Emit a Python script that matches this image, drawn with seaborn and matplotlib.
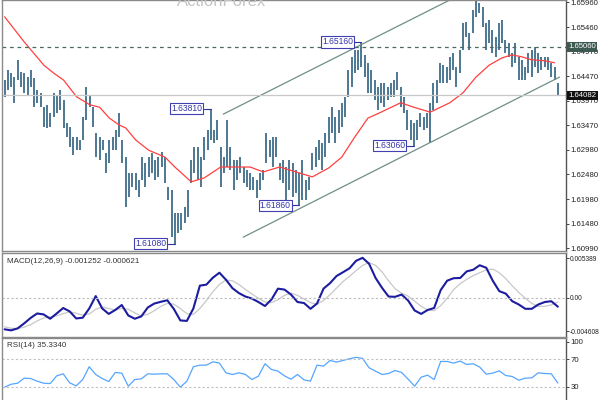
import numpy as np
import pandas as pd
import seaborn as sns
from matplotlib import pyplot as plt
from matplotlib import transforms

# Barras de preço (máximas e mínimas)
highs = [1.6439, 1.6459, 1.6453, 1.6445, 1.6480, 1.6455, 1.6453, 1.6445, 1.6459, 1.6443,
         1.6419, 1.6413, 1.6384, 1.6389, 1.6372, 1.6413, 1.6409, 1.6419, 1.6399, 1.6352,
         1.6344, 1.6324, 1.6324, 1.6318, 1.6364, 1.6425, 1.6409, 1.6384, 1.6332, 1.6324,
         1.6318, 1.6291, 1.6318, 1.6324, 1.6338, 1.6372, 1.6318, 1.6283, 1.6251, 1.6251,
         1.6251, 1.6237, 1.6283, 1.6271, 1.6283, 1.6291, 1.6277, 1.6283, 1.6293, 1.6283,
         1.6222, 1.6216, 1.6170, 1.6170, 1.6170, 1.6182, 1.6216, 1.6277, 1.6303, 1.6303,
         1.6283, 1.6324, 1.6338, 1.6381, 1.6338, 1.6358, 1.6303, 1.6283, 1.6358, 1.6303,
         1.6277, 1.6277, 1.6283, 1.6263, 1.6257, 1.6251, 1.6243, 1.6237, 1.6251, 1.6257,
         1.6332, 1.6318, 1.6324, 1.6324, 1.6271, 1.6277, 1.6263, 1.6277, 1.6271, 1.6257,
         1.6251, 1.6277, 1.6237, 1.6243, 1.6291, 1.6303, 1.6318, 1.6312, 1.6332, 1.6364,
         1.6384, 1.6364, 1.6378, 1.6393, 1.6405, 1.6459, 1.6486, 1.6500, 1.6500, 1.6516,
         1.6490, 1.6474, 1.6459, 1.6439, 1.6425, 1.6433, 1.6433, 1.6425, 1.6433, 1.6439,
         1.6455, 1.6425, 1.6405, 1.6378, 1.6358, 1.6352, 1.6358, 1.6372, 1.6364, 1.6372,
         1.6393, 1.6433, 1.6439, 1.6474, 1.6469, 1.6465, 1.6486, 1.6494, 1.6465, 1.6500,
         1.6555, 1.6557, 1.6534, 1.6581, 1.6600, 1.6595, 1.6587, 1.6555, 1.6561, 1.6540,
         1.6526, 1.6555, 1.6561, 1.6520, 1.6514, 1.6494, 1.6514, 1.6486, 1.6480, 1.6465,
         1.6494, 1.6500, 1.6506, 1.6494, 1.6486, 1.6486, 1.6486, 1.6474, 1.6465, 1.6433]
lows = [1.6405, 1.6419, 1.6425, 1.6393, 1.6439, 1.6425, 1.6413, 1.6409, 1.6425, 1.6384,
        1.6393, 1.6384, 1.6344, 1.6342, 1.6344, 1.6364, 1.6372, 1.6378, 1.6342, 1.6324,
        1.6303, 1.6287, 1.6297, 1.6297, 1.6318, 1.6358, 1.6384, 1.6344, 1.6283, 1.6277,
        1.6297, 1.6251, 1.6271, 1.6297, 1.6297, 1.6324, 1.6271, 1.6182, 1.6202, 1.6222,
        1.6216, 1.6202, 1.6237, 1.6222, 1.6243, 1.6251, 1.6237, 1.6243, 1.6263, 1.6231,
        1.6196, 1.6121, 1.6108, 1.6129, 1.6136, 1.6150, 1.6162, 1.6231, 1.6251, 1.6237,
        1.6222, 1.6277, 1.6297, 1.6318, 1.6312, 1.6318, 1.6222, 1.6251, 1.6263, 1.6257,
        1.6216, 1.6237, 1.6251, 1.6231, 1.6222, 1.6216, 1.6216, 1.6200, 1.6216, 1.6237,
        1.6271, 1.6283, 1.6263, 1.6283, 1.6237, 1.6231, 1.6196, 1.6216, 1.6202, 1.6210,
        1.6186, 1.6196, 1.6196, 1.6216, 1.6257, 1.6263, 1.6277, 1.6257, 1.6283, 1.6312,
        1.6332, 1.6312, 1.6332, 1.6344, 1.6364, 1.6405, 1.6425, 1.6453, 1.6459, 1.6465,
        1.6445, 1.6413, 1.6413, 1.6399, 1.6378, 1.6393, 1.6384, 1.6399, 1.6405, 1.6405,
        1.6419, 1.6384, 1.6372, 1.6338, 1.6318, 1.6306, 1.6318, 1.6344, 1.6338, 1.6342,
        1.6312, 1.6378, 1.6393, 1.6433, 1.6433, 1.6433, 1.6439, 1.6459, 1.6425, 1.6453,
        1.6500, 1.6526, 1.6500, 1.6534, 1.6567, 1.6575, 1.6546, 1.6500, 1.6514, 1.6494,
        1.6486, 1.6500, 1.6514, 1.6494, 1.6486, 1.6465, 1.6474, 1.6439, 1.6439, 1.6439,
        1.6453, 1.6445, 1.6465, 1.6453, 1.6459, 1.6465, 1.6459, 1.6445, 1.6439, 1.6408]

# Média móvel (vermelha)
ma_idx = [0, 6, 12, 15, 18, 22, 26, 29, 32, 35, 37, 40, 44, 49, 52, 57, 61, 66, 70, 75, 79,
          84, 89, 94, 99, 103, 107, 111, 115, 121, 125, 130, 136, 140, 144, 148, 152, 155,
          158, 161, 165, 168]
ma_vals = [1.6567, 1.6516, 1.6469, 1.6453, 1.6439, 1.6405, 1.6389, 1.6384, 1.6362, 1.6348,
           1.6342, 1.6318, 1.6297, 1.6283, 1.6263, 1.6233, 1.6241, 1.6263, 1.6263, 1.6263,
           1.6253, 1.6263, 1.6253, 1.6243, 1.6261, 1.6283, 1.6324, 1.6362, 1.6374, 1.6393,
           1.6384, 1.6374, 1.6393, 1.6413, 1.6445, 1.6469, 1.6484, 1.6490, 1.6486, 1.6480,
           1.6478, 1.6474]

# Canal de tendência (pontos de ancoragem)
channel_upper = ([66.8, 139.6], [1.6370, 1.6613])
channel_lower = ([72.9, 169.5], [1.6121, 1.6445])

# Rótulos de topos e fundos
pivot_idx = [63, 109, 90, 52, 125]
pivot_vals = [1.63810, 1.65160, 1.61860, 1.61080, 1.63060]

price_ticks = [1.60990, 1.61480, 1.61980, 1.62480, 1.62980, 1.63470,
               1.63970, 1.64470, 1.64970, 1.65460, 1.65960]
resistance = 1.65060
last_price = 1.64082

# MACD (a cada 2 barras)
macd = [-0.00435, -0.00449, -0.00422, -0.00354, -0.00279, -0.00218, -0.00231, -0.00290,
        -0.00218, -0.00143, -0.00190, -0.00286, -0.00276, -0.00150, 0.00020, -0.00150,
        -0.00224, -0.00170, -0.00102, -0.00245, -0.00290, -0.00258, -0.00136, -0.00082,
        -0.00058, -0.00037, -0.00156, -0.00313, -0.00320, -0.00150, 0.00163, 0.00177,
        0.00272, 0.00340, 0.00245, 0.00129, 0.00061, 0.00014, -0.00014, -0.00061,
        -0.00116, -0.00027, 0.00122, 0.00109, 0.00041, -0.00061, -0.00075, -0.00154,
        -0.00082, 0.00122, 0.00197, 0.00295, 0.00347, 0.00401, 0.00503, 0.00544,
        0.00462, 0.00268, 0.00132, 0.00014, 0.00010, 0.00041, -0.00041, -0.00177,
        -0.00224, -0.00170, -0.00143, 0.00102, 0.00231, 0.00265, 0.00268, 0.00358,
        0.00381, 0.00442, 0.00408, 0.00231, 0.00088, 0.00054, -0.00050, -0.00095,
        -0.00154, -0.00154, -0.00095, -0.00061, -0.00050, -0.00125]
signal = [-0.00400, -0.00420, -0.00425, -0.00405, -0.00370, -0.00320, -0.00280, -0.00265,
          -0.00250, -0.00220, -0.00195, -0.00215, -0.00240, -0.00225, -0.00160, -0.00130,
          -0.00150, -0.00170, -0.00150, -0.00160, -0.00210, -0.00250, -0.00230, -0.00180,
          -0.00120, -0.00080, -0.00090, -0.00150, -0.00220, -0.00230, -0.00150, -0.00040,
          0.00080, 0.00180, 0.00240, 0.00230, 0.00180, 0.00110, 0.00050, -0.00010,
          -0.00060, -0.00070, -0.00030, 0.00030, 0.00060, 0.00030, -0.00020, -0.00070,
          -0.00090, -0.00040, 0.00040, 0.00130, 0.00220, 0.00290, 0.00370, 0.00440,
          0.00480, 0.00440, 0.00350, 0.00230, 0.00120, 0.00060, 0.00020, -0.00050,
          -0.00120, -0.00170, -0.00180, -0.00110, -0.00010, 0.00110, 0.00190, 0.00250,
          0.00300, 0.00340, 0.00380, 0.00390, 0.00340, 0.00260, 0.00160, 0.00070,
          -0.00010, -0.00080, -0.00120, -0.00120, -0.00100, -0.00062]

# RSI(14) (a cada 2 barras)
rsi = [29.1, 33.5, 35.0, 42.4, 41.9, 38.0, 35.0, 34.5, 45.8, 48.8, 35.5, 31.1, 40.4, 59.2,
       47.8, 41.9, 37.5, 50.8, 49.8, 30.6, 40.4, 41.4, 48.8, 48.3, 48.8, 48.8, 40.4, 29.1,
       38.0, 59.2, 61.6, 61.6, 66.5, 64.6, 50.3, 47.8, 50.3, 47.8, 40.4, 45.4, 63.6, 55.2,
       52.7, 45.8, 40.9, 47.8, 39.9, 38.0, 61.6, 60.1, 68.5, 66.1, 68.5, 71.0, 73.0, 71.5,
       57.7, 52.7, 47.8, 49.3, 53.7, 50.8, 40.9, 30.6, 43.9, 46.8, 40.4, 67.0, 67.0, 64.6,
       67.5, 62.6, 63.6, 58.7, 48.3, 49.8, 53.2, 46.3, 44.9, 39.4, 42.4, 42.9, 50.3, 49.3,
       48.8, 35.3]

sns.set_theme(style='white')
plt.rcParams['font.family'] = ['Liberation Sans', 'DejaVu Sans']

fig = plt.figure(figsize=(6, 4), dpi=100)
fig.patch.set_facecolor('white')

left, width = 2 / 600, 564 / 600
ax = fig.add_axes([left, 1 - 251 / 400, width, 251 / 400])
ax_macd = fig.add_axes([left, 1 - 337 / 400, width, 84 / 400])
ax_rsi = fig.add_axes([left, 1 - 407 / 400, width, 69 / 400])

n = len(highs)
idx = np.arange(n)
xlim = (-0.8, 171.5)

# Painel principal
ax.vlines(idx, lows, highs, color='#4d7892', lw=1.4)
sns.lineplot(x=ma_idx, y=ma_vals, ax=ax, color='#ff4040', lw=0.9)
ax.plot(*channel_upper, color='#6f8f86', lw=0.9)
ax.plot(*channel_lower, color='#6f8f86', lw=0.9)
ax.axhline(resistance, color='#4a6a60', lw=0.9, ls=(0, (3, 3)))
ax.axhline(last_price, color='#c8c8c8', lw=0.9)

for i, v in zip(pivot_idx, pivot_vals):
    ax.plot([i - 2.2, i], [v, v], color='#3030a0', lw=0.8)
    ax.text(i - 2.6, v, f'{v:.5f}', fontsize=6.2, color='#3535a8', ha='right', va='center',
            bbox=dict(boxstyle='square,pad=0.12', fc='white', ec='#4040b0', lw=0.8))

ax.set_xlim(*xlim)
ax.set_ylim(1.6093, 1.6601)
ax.set_yticks(price_ticks)
ax.set_yticklabels([f'{t:.5f}' for t in price_ticks])

blend = transforms.blended_transform_factory(ax.transAxes, ax.transData)
ax.text(1.004, resistance, f'{resistance:.5f}', transform=blend, fontsize=5.6, color='white',
        ha='left', va='center', bbox=dict(boxstyle='square,pad=0.15', fc='#3d5a52', ec='none'))
ax.text(1.004, last_price, f'{last_price:.5f}', transform=blend, fontsize=5.6, color='white',
        ha='left', va='center', bbox=dict(boxstyle='square,pad=0.15', fc='#111111', ec='none'))

fig.text(222 / 600, 1 - 6 / 400, 'ActionForex', fontsize=12, color='#c4c4c4',
         ha='center', va='baseline')

# Painel MACD
mx = np.linspace(0, n - 1, len(macd))
sns.lineplot(x=mx, y=signal, ax=ax_macd, color='#c8c8c8', lw=0.9)
sns.lineplot(x=mx, y=macd, ax=ax_macd, color='#1c1ca0', lw=1.5)
ax_macd.axhline(0, color='#bbbbbb', lw=0.8, ls=(0, (2, 2)))
ax_macd.set_xlim(*xlim)
ax_macd.set_ylim(-0.0054, 0.0061)
ax_macd.set_yticks([-0.004608, 0.0, 0.005389])
ax_macd.set_yticklabels(['-0.004608', '0.00', '0.005389'])
ax_macd.get_yticklabels()[1].set_fontweight('bold')
ax_macd.text(0.008, 0.94, 'MACD(12,26,9) -0.001252 -0.000621', transform=ax_macd.transAxes,
             fontsize=5.8, color='#333333', va='top')

# Painel RSI
sns.lineplot(x=mx, y=rsi, ax=ax_rsi, color='#55a5ff', lw=0.9)
for lvl in [70, 30]:
    ax_rsi.axhline(lvl, color='#c0c0c0', lw=0.8, ls=(0, (2, 2)))
ax_rsi.set_xlim(*xlim)
ax_rsi.set_ylim(0, 101.5)
ax_rsi.set_yticks([30, 70, 96])
ax_rsi.set_yticklabels(['30', '70', '100'])
ax_rsi.text(0.008, 0.94, 'RSI(14) 35.3340', transform=ax_rsi.transAxes,
            fontsize=5.8, color='#333333', va='top')

for a in [ax, ax_macd, ax_rsi]:
    a.set_facecolor('white')
    a.set_xticks([])
    a.set_xlabel('')
    a.set_ylabel('')
    a.yaxis.tick_right()
    a.tick_params(axis='y', labelsize=5.6, length=2, width=0.6, pad=1.2,
                  colors='#222222', direction='out')
    for s in a.spines.values():
        s.set_color('#8a8a8a')
        s.set_linewidth(1.0)
    a.spines['right'].set_color('#555555')

ax_macd.tick_params(axis='y', labelsize=4.8, pad=1.0)

fig.savefig('out.png', dpi=100, facecolor='white')
